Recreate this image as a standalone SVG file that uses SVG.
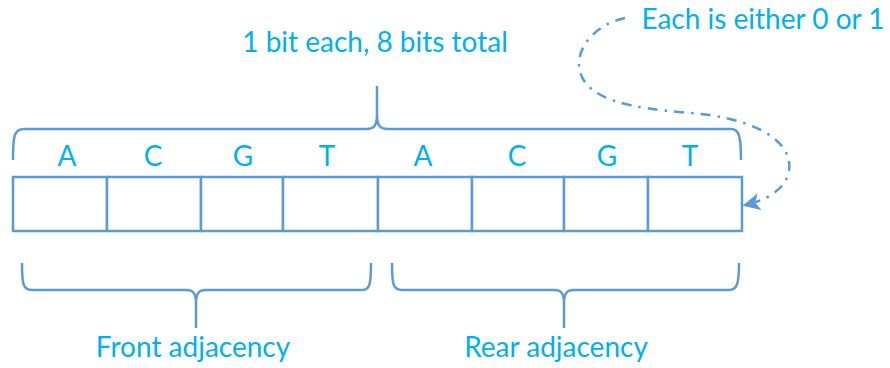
<svg xmlns="http://www.w3.org/2000/svg" width="890" height="368" viewBox="0 0 890 368">
  <defs>
    <style>
      .line { fill: none; stroke: #5B9BD5; stroke-width: 2.5; stroke-linejoin: round; }
      .cell { fill: #FFFFFF; stroke: #5B9BD5; stroke-width: 2.5; }
      .lbl { font-family: Lato, "Open Sans", "Liberation Sans", sans-serif; font-size: 28px; fill: #00B0F0; text-anchor: middle; }
      .dashdot { fill: none; stroke: #5B9BD5; stroke-width: 2.5; stroke-dasharray: 10 7 2.5 7; }
    </style>
    <marker id="arrow" viewBox="0 0 10 10" refX="8" refY="5" markerWidth="7" markerHeight="7" orient="auto" markerUnits="strokeWidth">
      <path d="M0,0 L10,5 L0,10 L2.5,5 z" fill="#5B9BD5"/>
    </marker>
  </defs>

  <!-- title over the byte -->
  <g id="title">
    <text class="lbl" x="375" y="52">1 bit each, 8 bits total</text>
  </g>

  <!-- note on the bit values -->
  <g id="note">
    <text class="lbl" x="763" y="29">Each is either 0 or 1</text>
  </g>

  <!-- the eight bit cells -->
  <g id="byte">
    <rect class="cell" x="13" y="177" width="94" height="54"/>
    <rect class="cell" x="107" y="177" width="94" height="54"/>
    <rect class="cell" x="201" y="177" width="82" height="54"/>
    <rect class="cell" x="283" y="177" width="95" height="54"/>
    <rect class="cell" x="378" y="177" width="94" height="54"/>
    <rect class="cell" x="472" y="177" width="92" height="54"/>
    <rect class="cell" x="564" y="177" width="84" height="54"/>
    <rect class="cell" x="648" y="177" width="94" height="54"/>
  </g>

  <!-- nucleotide labels -->
  <g id="labels">
    <text class="lbl" x="67" y="166">A</text>
    <text class="lbl" x="153" y="166">C</text>
    <text class="lbl" x="243" y="166">G</text>
    <text class="lbl" x="327" y="166">T</text>
    <text class="lbl" x="423" y="166">A</text>
    <text class="lbl" x="517" y="166">C</text>
    <text class="lbl" x="607" y="166">G</text>
    <text class="lbl" x="690" y="166">T</text>
  </g>

  <!-- braces -->
  <g id="top-brace">
    <path class="line" d="M13,160 C13,136 14,129 24,129 L366,129 C374,129 377,126 377,114 L377,86 M377,114 C377,126 380,129 388,129 L731,129 C739,129 741,136 741,160"/>
  </g>
  <g id="front-brace">
    <path class="line" d="M22,263 C22,284 23,290 32,290 L186,290 C193,290 196,293 196,303 L196,328 M196,303 C196,293 199,290 206,290 L362,290 C370,290 371,284 371,263"/>
  </g>
  <g id="rear-brace">
    <path class="line" d="M392,263 C392,284 393,290 402,290 L554,290 C561,290 564,293 564,303 L564,328 M564,303 C564,293 567,290 574,290 L729,290 C737,290 739,284 739,263"/>
  </g>

  <!-- group labels -->
  <g id="front-label">
    <text class="lbl" x="193" y="357">Front adjacency</text>
  </g>
  <g id="rear-label">
    <text class="lbl" x="556" y="357">Rear adjacency</text>
  </g>

  <!-- connector from the note to the last cell -->
  <g id="connectors">
    <path class="dashdot" marker-end="url(#arrow)" d="M625,18 C596,24 574,48 580,72 C588,100 630,108 690,113 C745,117 785,135 789,162 C792,182 775,198 746,205"/>
  </g>
</svg>
